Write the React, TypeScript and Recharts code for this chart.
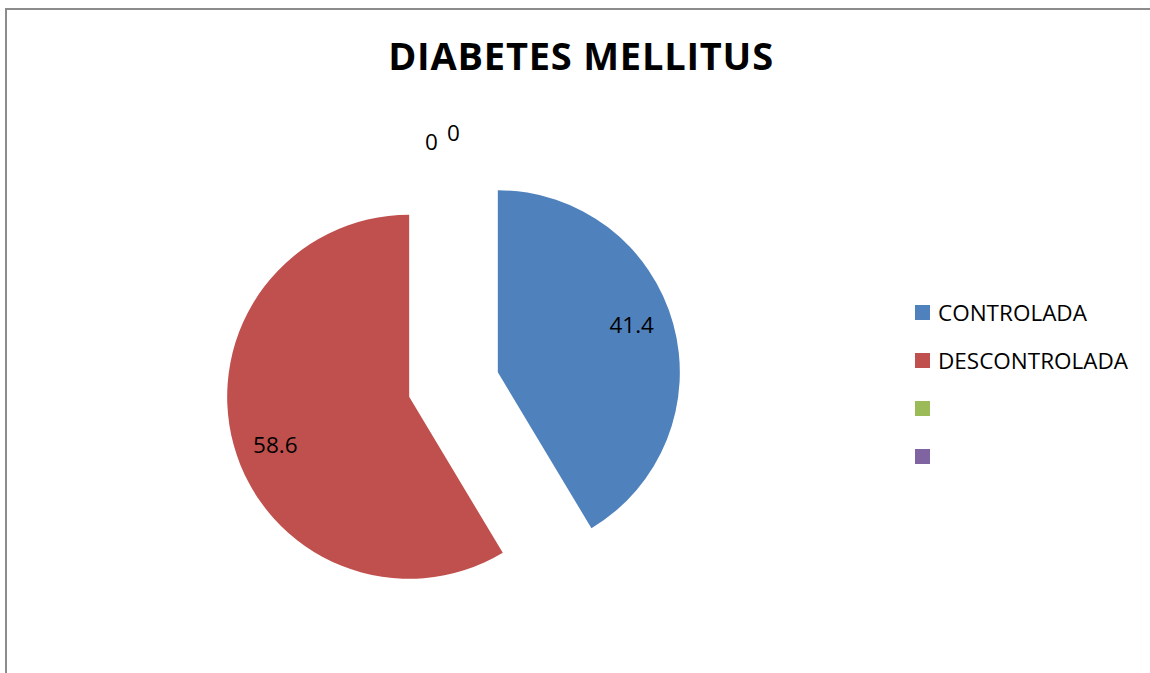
import React from "react";
import { Cell, Legend, Pie, PieChart } from "recharts";

// Excel-style exploded pie: each visible slice is drawn by its own Pie,
// shifted outwards along that slice's mid angle.
const CATEGORIES = ["CONTROLADA", "DESCONTROLADA", "", " "];
const VALUES = [41.4, 58.6, 0, 0];
const COLORS = ["#4F81BD", "#C0504D", "#9BBB59", "#8064A2"];
const EXPLODED = [0, 1];

const data = CATEGORIES.map((name, i) => ({ name, value: VALUES[i] }));
const total = VALUES.reduce((a, b) => a + b, 0);

const W = 1150;
const H = 673;
const CX = 453.5;
const CY = 384.5;
const R = 182;
const EXPLODE = 46;
const START = 90;
const END = -270;
const LABEL_TURN = 4; // excel's "best fit" nudges labels a little counter-clockwise
const FONT = "'Open Sans', 'Liberation Sans', sans-serif";

function midAngle(i: number) {
  const before = VALUES.slice(0, i).reduce((a, b) => a + b, 0);
  return START + ((END - START) * (before + VALUES[i] / 2)) / total;
}

function offsetFor(i: number) {
  const a = (midAngle(i) * Math.PI) / 180;
  return { x: EXPLODE * Math.cos(a), y: -EXPLODE * Math.sin(a) };
}

function makeLabel(owner: number) {
  return (props: any) => {
    const { index, value } = props;
    const off = offsetFor(owner);
    const px = CX + off.x;
    const py = CY + off.y;
    if (index === owner) {
      const a = ((midAngle(index) + LABEL_TURN) * Math.PI) / 180;
      return (
        <text key={index} x={px + R * 0.78 * Math.cos(a)} y={py - R * 0.78 * Math.sin(a)}
          textAnchor="middle" dominantBaseline="central"
          style={{ fontFamily: FONT, fontSize: 22.5, fill: "#000" }}>
          {value}
        </text>
      );
    }
    // zero-value slices get their labels above the pie (only drawn once)
    if (owner === EXPLODED[0] && VALUES[index] === 0) {
      const k = index - 2;
      const x = CX - 22 + k * 22;
      const y = CY - R - 61 - k * 9;
      return (
        <text key={index} x={x} y={y} textAnchor="middle" dominantBaseline="central"
          style={{ fontFamily: FONT, fontSize: 22.5, fill: "#000" }}>
          {value}
        </text>
      );
    }
    return null;
  };
}

function LegendBox() {
  return (
    <div style={{ fontFamily: FONT, fontSize: 22.5, color: "#000" }}>
      {CATEGORIES.map((name, i) => (
        <div key={i} style={{ height: 48, display: "flex", alignItems: "center" }}>
          <span style={{ width: 15, height: 15, background: COLORS[i], marginRight: 8, flex: "none" }} />
          <span style={{ whiteSpace: "nowrap" }}>{name.trim()}</span>
        </div>
      ))}
    </div>
  );
}

export default function App() {
  return (
    <div style={{ position: "absolute", left: 0, top: 0, width: W, height: H, background: "#fff", overflow: "hidden" }}>
      <div style={{
        position: "absolute", left: 5, top: 8, width: 2000, height: 2000,
        borderTop: "2px solid #8c8c8c", borderLeft: "2px solid #8c8c8c",
      }} />
      <svg width={W} height={H} style={{ position: "absolute", left: 0, top: 0 }}>
        <text x={581} y={70} textAnchor="middle"
          style={{ fontFamily: FONT, fontSize: 38, fontWeight: 700, letterSpacing: 0.8, fill: "#000" }}>
          DIABETES MELLITUS
        </text>
      </svg>
      <div style={{ position: "absolute", left: 0, top: 0 }}>
        <PieChart width={W} height={H} margin={{ top: 0, right: 0, bottom: 0, left: 0 }}>
          {EXPLODED.map((owner) => {
            const off = offsetFor(owner);
            return (
              <Pie key={owner} data={data} dataKey="value" nameKey="name"
                cx={CX + off.x} cy={CY + off.y} outerRadius={R} innerRadius={0}
                startAngle={START} endAngle={END}
                stroke="none" labelLine={false} label={makeLabel(owner)}
                legendType={owner === EXPLODED[0] ? "square" : "none"}
                isAnimationActive={false}>
                {data.map((_, i) => (
                  <Cell key={i} fill={i === owner ? COLORS[i] : "transparent"} stroke="none" />
                ))}
              </Pie>
            );
          })}
          <Legend content={() => <LegendBox />}
            wrapperStyle={{ position: "absolute", left: 915, top: 288, width: 235 }} />
        </PieChart>
      </div>
    </div>
  );
}
